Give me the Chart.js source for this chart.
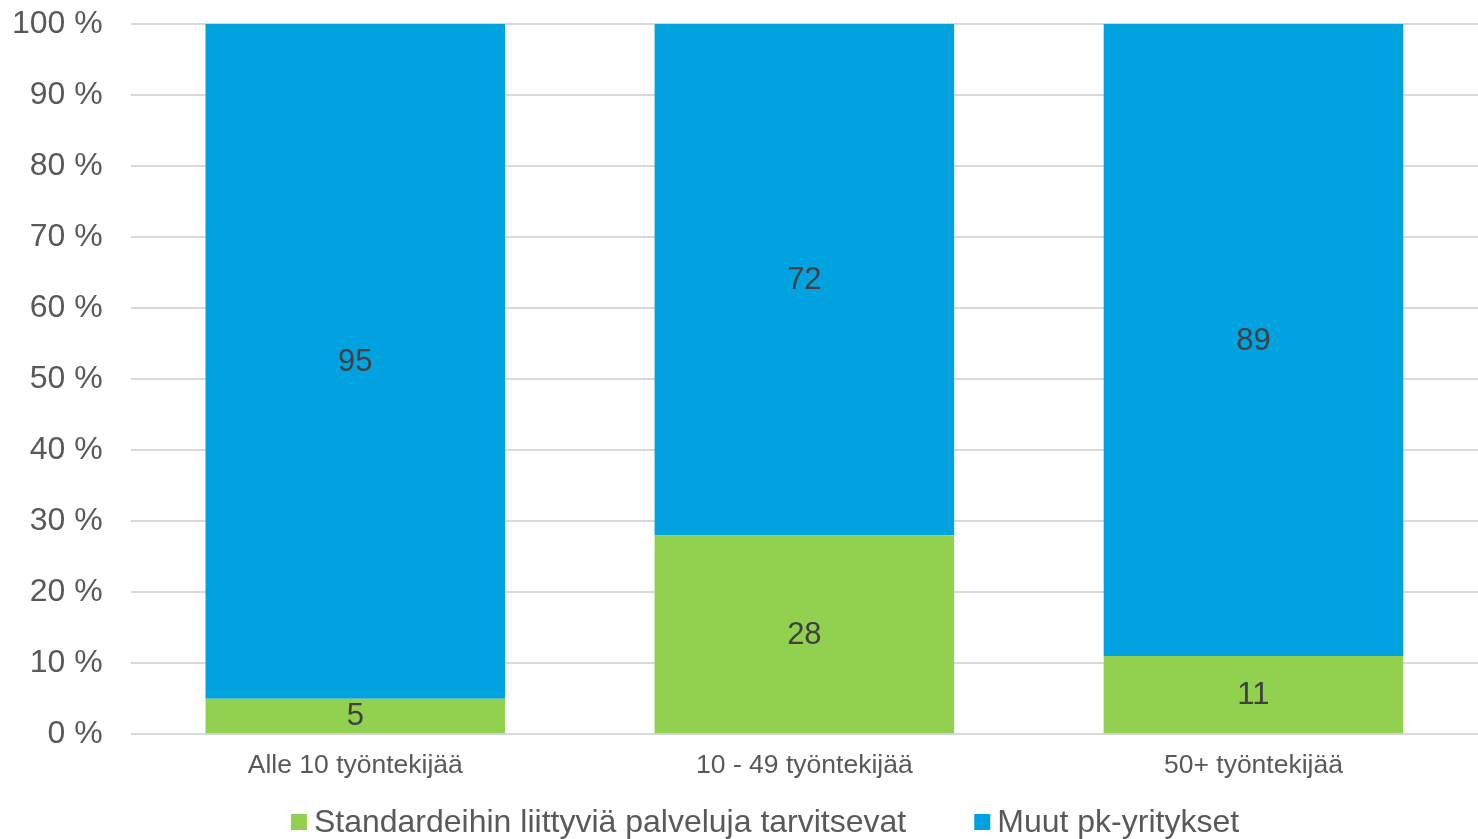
<!DOCTYPE html>
<html>
<head>
<meta charset="utf-8">
<script src="https://cdn.jsdelivr.net/npm/chart.js@4/dist/chart.umd.min.js"></script>
<style>
  html, body { margin: 0; padding: 0; background: #fff; }
  #wrap { width: 1478px; height: 839px; }
</style>
</head>
<body>
<div id="wrap"><canvas id="chart"></canvas></div>
<script>
// data
const categories = ['Alle 10 työntekijää', '10 - 49 työntekijää', '50+ työntekijää'];
const standardNeeders = [5, 28, 11];
const otherSmes = [95, 72, 89];
const seriesNames = ['Standardeihin liittyviä palveluja tarvitsevat', 'Muut pk-yritykset'];
const seriesColors = ['#92D050', '#00A2E0'];

const FONT = "'Liberation Sans', Arial, sans-serif";
const TEXT_GREY = '#595959';

// labels in the middle of each bar piece
const barLabels = {
    id: 'barLabels',
    afterDatasetsDraw(chart) {
        const ctx = chart.ctx;
        ctx.save();
        ctx.font = '31px ' + FONT;
        ctx.fillStyle = '#404040';
        ctx.textAlign = 'center';
        ctx.textBaseline = 'middle';
        chart.data.datasets.forEach((ds, i) => {
            chart.getDatasetMeta(i).data.forEach((bar, j) => {
                const yMid = (bar.y + bar.base) / 2;
                ctx.fillText(String(ds.data[j]), bar.x, yMid + 1);
            });
        });
        ctx.restore();
    }
};

// legend under the axis, small square + text like the office chart
const bottomLegend = {
    id: 'bottomLegend',
    afterDraw(chart) {
        const ctx = chart.ctx;
        const box = 16, gap = 7, itemGap = 68;
        ctx.save();
        ctx.font = '32px ' + FONT;
        ctx.textBaseline = 'middle';
        const widths = seriesNames.map(n => ctx.measureText(n).width);
        let total = 0;
        widths.forEach((w, i) => { total += box + gap + w + (i > 0 ? itemGap : 0); });
        let x = 765 - total / 2;
        const y = 822;
        seriesNames.forEach((name, i) => {
            ctx.fillStyle = seriesColors[i];
            ctx.fillRect(x, y - box / 2, box, box);
            ctx.fillStyle = TEXT_GREY;
            ctx.fillText(name, x + box + gap, y + 1);
            x += box + gap + widths[i] + itemGap;
        });
        ctx.restore();
    }
};

new Chart(document.getElementById('chart'), {
    type: 'bar',
    data: {
        labels: categories,
        datasets: [
            { label: seriesNames[0], data: standardNeeders, backgroundColor: seriesColors[0] },
            { label: seriesNames[1], data: otherSmes, backgroundColor: seriesColors[1] }
        ]
    },
    options: {
        responsive: true,
        maintainAspectRatio: false,
        animation: false,
        // plot area runs a little past the right edge, like the original
        layout: { padding: { left: 12, right: -15, top: 24, bottom: 41 } },
        datasets: { bar: { categoryPercentage: 1.0, barPercentage: 0.667 } },
        scales: {
            x: {
                stacked: true,
                grid: { display: false, drawTicks: false },
                border: { display: false },
                ticks: { color: TEXT_GREY, font: { family: FONT, size: 26.5 }, padding: 16 }
            },
            y: {
                stacked: true,
                min: 0, max: 100,
                // tick marks kept invisible, they only make the gap before the labels
                grid: { color: '#d9d9d9', lineWidth: 2, drawTicks: true, tickLength: 28, tickColor: 'rgba(0,0,0,0)' },
                border: { display: false },
                ticks: {
                    stepSize: 10,
                    color: TEXT_GREY,
                    padding: 0,
                    font: { family: FONT, size: 32 },
                    callback: v => v + ' %'
                }
            }
        },
        plugins: {
            tooltip: { enabled: false },
            legend: { display: false }
        }
    },
    plugins: [barLabels, bottomLegend]
});
</script>
</body>
</html>
